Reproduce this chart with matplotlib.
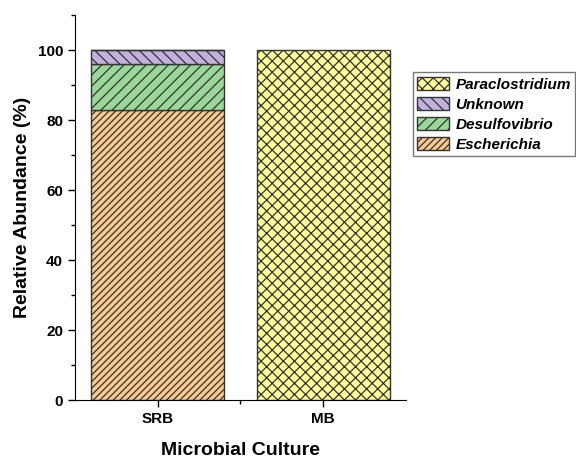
import matplotlib
matplotlib.use("Agg")
import matplotlib.pyplot as plt
from matplotlib.ticker import MultipleLocator, FixedLocator

plt.rcParams['font.family'] = ['Liberation Sans', 'DejaVu Sans']
plt.rcParams['font.weight'] = 'bold'
plt.rcParams['hatch.linewidth'] = 0.9
plt.rcParams['hatch.color'] = '#333333'

cultures = ['SRB', 'MB']
escherichia = [83, 0]
desulfovibrio = [13, 0]
unknown = [4, 0]
paraclostridium = [0, 100]

fig = plt.figure(figsize=(5.76, 4.59), dpi=100)
ax = fig.add_axes([0.130, 0.1285, 0.575, 0.8385])

x = range(len(cultures))
w = 0.8
ec = '#333333'
b1 = ax.bar(x, escherichia, w, color='#F9C98E', edgecolor=ec, hatch='/////', label='Escherichia')
b2 = ax.bar(x, desulfovibrio, w, bottom=escherichia, color='#9AD89A', edgecolor=ec, hatch='///', label='Desulfovibrio')
bot3 = [a + b for a, b in zip(escherichia, desulfovibrio)]
b3 = ax.bar(x, unknown, w, bottom=bot3, color='#C3B1DD', edgecolor=ec, hatch='\\\\\\', label='Unknown')
bot4 = [a + b for a, b in zip(bot3, unknown)]
b4 = ax.bar(x, paraclostridium, w, bottom=bot4, color='#FFFF99', edgecolor=ec, hatch='xxx', label='Paraclostridium')

ax.set_xlim(-0.5, 1.5)
ax.set_ylim(0, 110)
ax.set_xticks(list(x))
ax.xaxis.set_minor_locator(FixedLocator([0.5]))
ax.set_xticklabels(cultures, fontsize=11, fontweight='bold')
ax.set_yticks([0, 20, 40, 60, 80, 100])
ax.yaxis.set_minor_locator(MultipleLocator(10))
for lab in ax.get_yticklabels():
    lab.set_fontweight('bold')
    lab.set_fontsize(11)
ax.tick_params(direction='out', length=5, width=1)
ax.tick_params(which='minor', direction='out', length=3, width=1)
ax.spines['top'].set_visible(False)
ax.spines['right'].set_visible(False)

ax.set_ylabel('Relative Abundance (%)', fontsize=14, fontweight='bold', labelpad=5)
ax.set_xlabel('Microbial Culture', fontsize=14, fontweight='bold', labelpad=12)

handles = [b4, b3, b2, b1]
leg = ax.legend(handles, [h.get_label() for h in handles], loc='upper left',
                bbox_to_anchor=(1.02, 0.852), frameon=True, fancybox=False,
                prop={'style': 'italic', 'weight': 'bold', 'size': 11},
                handlelength=2.1, handleheight=1.0, labelspacing=0.32,
                borderpad=0.3, handletextpad=0.4, borderaxespad=0)
leg.get_frame().set_edgecolor('#555555')

fig.savefig('out.png', dpi=100)
